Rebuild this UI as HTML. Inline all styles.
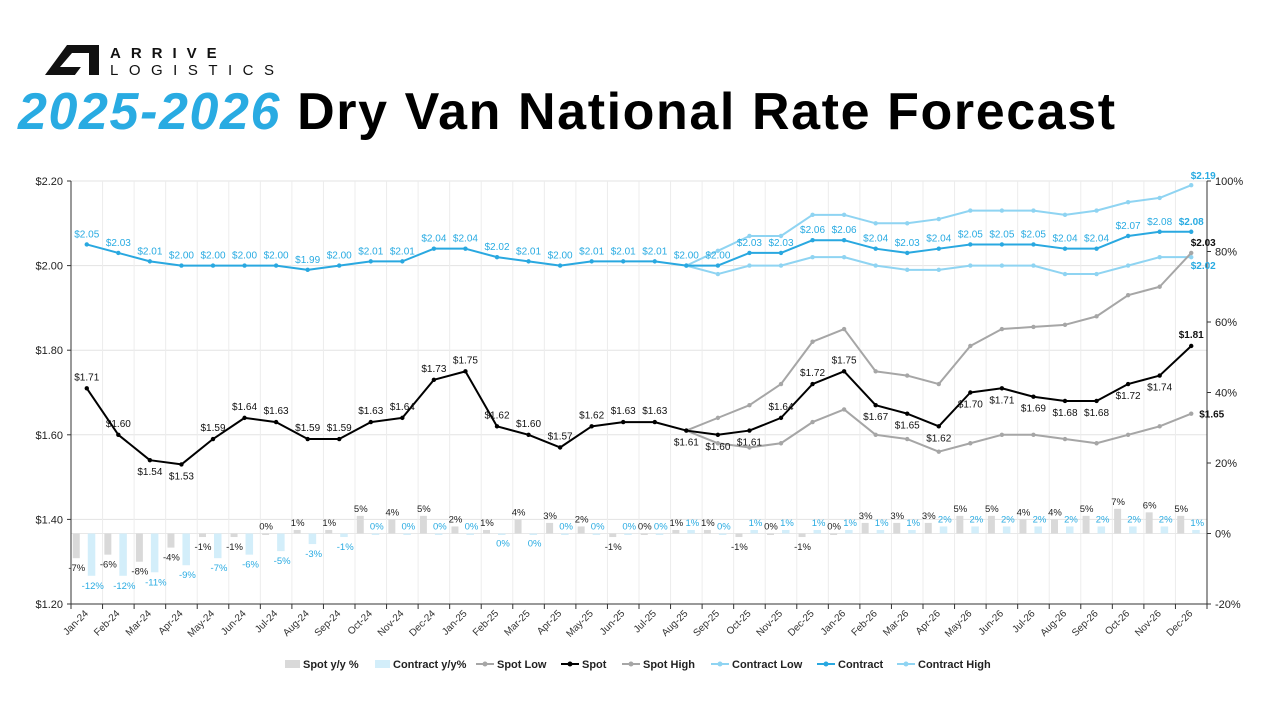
<!DOCTYPE html>
<html><head><meta charset="utf-8">
<style>
html,body{margin:0;padding:0;background:#fff;}
body{width:1271px;height:710px;overflow:hidden;position:relative;font-family:"Liberation Sans",sans-serif;}
#title{position:absolute;left:18px;top:82px;font-size:52px;font-weight:bold;white-space:nowrap;letter-spacing:1.6px;color:#000;}
#title .yr{color:#29abe2;font-style:italic;}
#logo{position:absolute;left:45px;top:44px;}
</style></head><body>
<svg id="logo" width="240" height="34" viewBox="0 0 240 34">
<polygon points="0,31 22,1 54,1 54,31 44,31 44,9 27,9 15,23 36,23 30,31" fill="#111"/>
<polygon points="30,31 36,23 44,23 44,31" fill="#fff"/>
<text x="65" y="14" font-family="Liberation Sans" font-weight="bold" font-size="15" letter-spacing="10" fill="#111">ARRIVE</text>
<text x="65" y="31" font-family="Liberation Sans" font-size="15" letter-spacing="10.5" fill="#111">LOGISTICS</text>
</svg>
<div id="title"><span class="yr">2025-2026</span> Dry Van National Rate Forecast</div>
<svg id="chart" width="1271" height="710" style="position:absolute;left:0;top:0"></svg>
<script>
const months=["Jan-24","Feb-24","Mar-24","Apr-24","May-24","Jun-24","Jul-24","Aug-24","Sep-24","Oct-24","Nov-24","Dec-24","Jan-25","Feb-25","Mar-25","Apr-25","May-25","Jun-25","Jul-25","Aug-25","Sep-25","Oct-25","Nov-25","Dec-25","Jan-26","Feb-26","Mar-26","Apr-26","May-26","Jun-26","Jul-26","Aug-26","Sep-26","Oct-26","Nov-26","Dec-26"];
const contract=[2.05,2.03,2.01,2.00,2.00,2.00,2.00,1.99,2.00,2.01,2.01,2.04,2.04,2.02,2.01,2.00,2.01,2.01,2.01,2.00,2.00,2.03,2.03,2.06,2.06,2.04,2.03,2.04,2.05,2.05,2.05,2.04,2.04,2.07,2.08,2.08];
const spot=[1.71,1.60,1.54,1.53,1.59,1.64,1.63,1.59,1.59,1.63,1.64,1.73,1.75,1.62,1.60,1.57,1.62,1.63,1.63,1.61,1.60,1.61,1.64,1.72,1.75,1.67,1.65,1.62,1.70,1.71,1.69,1.68,1.68,1.72,1.74,1.81];
const forecastStart=19;
const spotHigh=[1.61,1.64,1.67,1.72,1.82,1.85,1.75,1.74,1.72,1.81,1.85,1.855,1.86,1.88,1.93,1.95,2.03];
const spotLow=[1.61,1.58,1.57,1.58,1.63,1.66,1.60,1.59,1.56,1.58,1.60,1.60,1.59,1.58,1.60,1.62,1.65];
const contractHigh=[2.00,2.035,2.07,2.07,2.12,2.12,2.10,2.10,2.11,2.13,2.13,2.13,2.12,2.13,2.15,2.16,2.19];
const contractLow=[2.00,1.98,2.00,2.00,2.02,2.02,2.00,1.99,1.99,2.00,2.00,2.00,1.98,1.98,2.00,2.02,2.02];
const spotYoY=[-7,-6,-8,-4,-1,-1,0,1,1,5,4,5,2,1,4,3,2,-1,0,1,1,-1,0,-1,0,3,3,3,5,5,4,4,5,7,6,5];
const contractYoY=[-12,-12,-11,-9,-7,-6,-5,-3,-1,0,0,0,0,0,0,0,0,0,0,1,0,1,1,1,1,1,1,2,2,2,2,2,2,2,2,1];
const leftTicks=[1.20,1.40,1.60,1.80,2.00,2.20];
const rightTicks=[-20,0,20,40,60,80,100];
const spotLabelPos="aabbaaaaaaaaaaaaaaabbbaaabbbbbbbbbba";

const NS="http://www.w3.org/2000/svg";
const svg=document.getElementById('chart');
const L=71,R=1207,T=181,B=604,N=months.length,cw=(R-L)/N;
const xc=i=>L+cw*(i+0.5);
const yL=v=>B-(v-1.20)/(2.20-1.20)*(B-T);
const yR=p=>B-(p+20)/120*(B-T);
function el(tag,attrs,parent){const e=document.createElementNS(NS,tag);for(const k in attrs)e.setAttribute(k,attrs[k]);(parent||svg).appendChild(e);return e;}
function txt(x,y,s,attrs){const t=el('text',Object.assign({x:x,y:y,'font-family':'Liberation Sans','font-size':10},attrs||{}));t.textContent=s;return t;}

for(const v of leftTicks){const g=el('line',{x1:L,x2:R,y1:yL(v),y2:yL(v),stroke:'#e3e3e3','stroke-width':1});

}
for(let i=1;i<N;i++){const g=el('line',{x1:L+cw*i,x2:L+cw*i,y1:T,y2:B,stroke:'#ececec','stroke-width':1});

}
el('line',{x1:L,x2:R,y1:yR(0),y2:yR(0),stroke:'#e8e8e8'});
const ax=el('line',{x1:L,x2:L,y1:T,y2:B,stroke:'#333'});


const ax2=el('line',{x1:R,x2:R,y1:T,y2:B,stroke:'#333'});


const ax3=el('line',{x1:L,x2:R,y1:B,y2:B,stroke:'#333'});


for(const v of leftTicks){el('line',{x1:L-4,x2:L,y1:yL(v),y2:yL(v),stroke:'#333'});
const t=txt(L-8,yL(v)+4,'$'+v.toFixed(2),{'text-anchor':'end','font-size':11,fill:'#222'});

}
for(const p of rightTicks){el('line',{x1:R,x2:R+4,y1:yR(p),y2:yR(p),stroke:'#333'});
const t=txt(R+8,yR(p)+4,p+'%',{'font-size':11,fill:'#222'});

}
for(let i=0;i<=N;i++)el('line',{x1:L+cw*i,x2:L+cw*i,y1:B,y2:B+5,stroke:'#333'});
months.forEach((m,i)=>{const x=xc(i)+2,y=B+10;
const t=txt(x,y,m,{'text-anchor':'end','font-size':10,fill:'#333',transform:`rotate(-45 ${x} ${y})`});

});

spotYoY.forEach((v,i)=>{const y0=yR(0),y1=yR(v);
const b=el('rect',{x:xc(i)-14,y:Math.min(y0,y1),width:7,height:Math.max(1.5,Math.abs(y1-y0)),fill:'#d9d9d9'});


const t=txt(xc(i)-10,v>=0?y1-4:y1+13,v+'%',{'text-anchor':'middle','font-size':9.5,fill:'#222'});

});
contractYoY.forEach((v,i)=>{const y0=yR(0),y1=yR(v);
const b=el('rect',{x:xc(i)+1,y:Math.min(y0,y1),width:7.5,height:Math.max(1.5,Math.abs(y1-y0)),fill:'#d3eefa'});


const below=v<0||(i>=13&&i<=14);
const t=txt(xc(i)+6,below?y1+13:y1-4,v+'%',{'text-anchor':'middle','font-size':9.5,fill:'#29abe2'});

});

function line(vals,start,color,w,name){
const pts=vals.map((v,k)=>[xc(start+k),yL(v)]);
const p=el('polyline',{points:pts.map(p=>p.join(',')).join(' '),fill:'none',stroke:color,'stroke-width':w,'stroke-linejoin':'round'});


pts.forEach(q=>{const c=el('circle',{cx:q[0],cy:q[1],r:2.2,fill:color});

});
return pts;}
line(contractLow,forecastStart,'#8fd4f2',2,'contract-low-line');
line(contractHigh,forecastStart,'#8fd4f2',2,'contract-high-line');
line(spotLow,forecastStart,'#a6a6a6',2,'spot-low-line');
line(spotHigh,forecastStart,'#a6a6a6',2,'spot-high-line');
line(contract,0,'#29a8e0',2,'contract-line');
line(spot,0,'#000',2,'spot-line');

contract.forEach((v,i)=>{const last=i===N-1;
const t=txt(xc(i),yL(v)-7,'$'+v.toFixed(2),{'text-anchor':'middle','font-size':10,fill:'#29abe2','font-weight':last?'bold':'normal'});

});
spot.forEach((v,i)=>{const last=i===N-1;const a=spotLabelPos[i]==='a';
const t=txt(xc(i),a?yL(v)-8:yL(v)+15,'$'+v.toFixed(2),{'text-anchor':'middle','font-size':10,fill:'#111','font-weight':last?'bold':'normal'});

});
const endLbls=[[contractHigh,'#29abe2',-6,'contract-high-end-label'],[contractLow,'#29abe2',12,'contract-low-end-label'],[spotHigh,'#111',-7,'spot-high-end-label'],[spotLow,'#111',4,'spot-low-end-label']];
endLbls.forEach(([arr,c,dy,nm])=>{const v=arr[arr.length-1];const i=N-1;
const t=txt(nm.indexOf('spot-low')===0?xc(i)+8:xc(i)+12,yL(v)+dy,'$'+v.toFixed(2),{'text-anchor':nm.indexOf('spot-low')===0?'start':'middle','font-size':10,fill:c,'font-weight':'bold'});

});

const leg=[['Spot y/y %','rect','#d9d9d9',285],['Contract y/y%','rect','#d3eefa',375],['Spot Low','line','#a6a6a6',476],['Spot','line','#000',561],['Spot High','line','#a6a6a6',622],['Contract Low','line','#8fd4f2',711],['Contract','line','#29a8e0',817],['Contract High','line','#8fd4f2',897]];
leg.forEach(([lab,kind,c,x])=>{const g=el('g',{});


if(kind==='rect')el('rect',{x:x,y:660,width:15,height:8,fill:c},g);
else{el('line',{x1:x,x2:x+18,y1:664,y2:664,stroke:c,'stroke-width':2},g);el('circle',{cx:x+9,cy:664,r:2.5,fill:c},g);}
const t=txt(x+(kind==='rect'?18:21),668,lab,{'font-size':11,'font-weight':'bold',fill:'#222'});g.appendChild(t);});
</script>
</body></html>
